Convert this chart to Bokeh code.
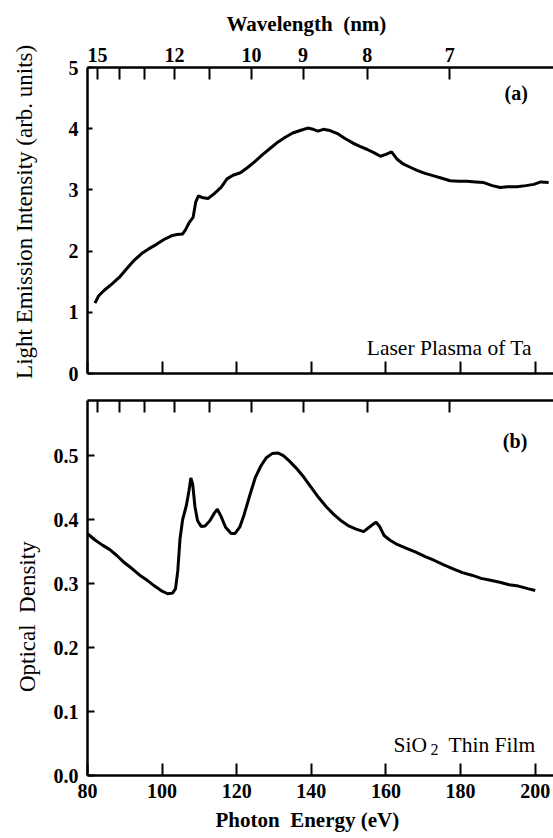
import math
from bokeh.plotting import figure
from bokeh.models import LinearAxis, FixedTicker, Range1d, Label, Title, CustomLabelingPolicy
from bokeh.layouts import column
from bokeh.embed import file_html
from bokeh.resources import INLINE

# ---------------- data ----------------
energy_a = [82.0, 83.0, 84.5, 86.5, 88.5, 90.5, 92.5, 94.5, 96.5, 98.5, 100.5, 102.5, 104.0,
            105.5, 106.3, 107.2, 108.3, 109.0, 109.7, 111.0, 112.3, 114.0, 115.8, 117.4,
            119.0, 121.0, 123.0, 125.0, 127.0, 129.0, 131.0, 133.0, 135.0, 137.0, 139.0,
            140.5, 141.8, 143.2, 145.0, 147.0, 149.0, 151.3, 153.0, 155.0, 157.0, 158.5,
            160.0, 161.5, 163.0, 164.7, 166.5, 168.3, 170.5, 172.8, 175.0, 177.2, 179.5,
            181.7, 184.0, 186.2, 188.5, 190.6, 192.5, 195.1, 197.5, 199.6, 201.5, 203.6]
intensity_a = [1.15, 1.27, 1.36, 1.46, 1.57, 1.71, 1.85, 1.96, 2.04, 2.11, 2.19, 2.25, 2.27,
               2.28, 2.35, 2.46, 2.55, 2.80, 2.90, 2.87, 2.86, 2.94, 3.04, 3.18,
               3.24, 3.28, 3.37, 3.47, 3.58, 3.68, 3.78, 3.86, 3.93, 3.97, 4.01,
               3.99, 3.96, 3.99, 3.97, 3.92, 3.84, 3.76, 3.71, 3.66, 3.60, 3.55,
               3.58, 3.62, 3.50, 3.42, 3.37, 3.32, 3.27, 3.23, 3.19, 3.15, 3.14,
               3.14, 3.13, 3.12, 3.07, 3.04, 3.05, 3.05, 3.07, 3.09, 3.13, 3.12]

energy_b = [80.0, 82.0, 84.0, 86.0, 88.0, 90.0, 92.0, 94.0, 96.0, 98.0, 100.0, 101.5, 102.8,
            103.6, 104.2, 104.8, 105.5, 106.5, 107.2, 107.7, 108.2, 108.8, 109.5, 110.5,
            111.5, 112.8, 114.0, 114.8, 115.8, 117.0, 118.5, 119.5, 120.8, 122.0, 123.5,
            125.0, 126.5, 128.0, 129.5, 131.0, 132.5, 134.0, 136.0, 138.0, 140.0, 142.0,
            144.0, 146.0, 148.0, 150.0, 152.0, 154.0, 155.5, 157.3, 158.2, 159.5, 161.0,
            163.0, 165.5, 168.0, 170.5, 173.0, 175.5, 178.0, 180.5, 183.0, 185.5, 188.0,
            190.5, 193.0, 195.5, 198.0, 200.0]
density_b = [0.378, 0.368, 0.360, 0.353, 0.343, 0.332, 0.323, 0.313, 0.305, 0.296, 0.288, 0.284, 0.285,
             0.292, 0.320, 0.370, 0.400, 0.422, 0.445, 0.465, 0.455, 0.420, 0.398, 0.389,
             0.390, 0.398, 0.410, 0.416, 0.405, 0.388, 0.378, 0.378, 0.388, 0.408, 0.438,
             0.466, 0.484, 0.497, 0.503, 0.504, 0.500, 0.492, 0.480, 0.466, 0.450, 0.434,
             0.420, 0.408, 0.398, 0.390, 0.385, 0.381, 0.388, 0.396, 0.390, 0.375, 0.368,
             0.361, 0.355, 0.349, 0.342, 0.336, 0.329, 0.323, 0.317, 0.313, 0.308, 0.305,
             0.302, 0.298, 0.296, 0.292, 0.289]

energy_ticks = [80, 100, 120, 140, 160, 180, 200]
intensity_ticks = [0, 1, 2, 3, 4, 5]
density_ticks = [0.0, 0.1, 0.2, 0.3, 0.4, 0.5]
wavelength_ticks_nm = [15, 14, 13, 12, 11, 10, 9, 8, 7]
wavelength_labels = ["15", "", "", "12", "", "10", "9", "8", "7"]

HC = 1239.84  # eV*nm
wl_energy = [round(HC / w, 3) for w in wavelength_ticks_nm]

X_MIN, X_MAX = 80, 204.9
FONT = "Liberation Serif"
NB = "\u00a0"


def style_axis(ax, tick_in, labels=True, size="20px"):
    ax.axis_line_width = 2.5
    ax.axis_line_color = "black"
    ax.major_tick_line_width = 2
    ax.major_tick_line_color = "black"
    ax.major_tick_in = tick_in
    ax.major_tick_out = 0
    ax.minor_tick_in = 0
    ax.minor_tick_out = 0
    ax.minor_tick_line_color = None
    ax.major_label_text_font = FONT
    ax.major_label_text_font_style = "bold"
    ax.axis_label_text_font = FONT
    ax.axis_label_text_font_style = "normal"
    ax.axis_label_text_color = "black"
    ax.axis_label_text_font_size = "23px"
    if labels:
        ax.major_label_text_color = "black"
        ax.major_label_text_font_size = size
    else:
        ax.major_label_text_color = None
        ax.major_label_text_font_size = "1px"
        ax.major_label_standoff = 0


def add_label(p, x, y, text, size="21px", style="normal", align="left",
              baseline="alphabetic"):
    p.add_layout(Label(x=x, y=y, text=text, text_font=FONT, text_font_size=size,
                       text_font_style=style, text_align=align, text_baseline=baseline,
                       text_color="black"))


def add_title(p, side, text, size, style, offset, standoff):
    p.add_layout(Title(text=text, align="left", offset=offset, standoff=standoff,
                       text_font=FONT, text_font_size=size, text_font_style=style,
                       text_color="black"), side)


# ---------------- panel (a) ----------------
pa = figure(width=553, height=397, x_range=Range1d(X_MIN, X_MAX), y_range=Range1d(0, 5),
            output_backend="svg", toolbar_location=None,
            min_border_left=87, min_border_right=0, min_border_top=66, min_border_bottom=24)
pa.outline_line_color = None
pa.grid.visible = False
pa.background_fill_color = "white"
pa.border_fill_color = "white"

pa.xaxis.ticker = FixedTicker(ticks=energy_ticks)
pa.yaxis.ticker = FixedTicker(ticks=intensity_ticks)
style_axis(pa.xaxis[0], 12, labels=False)
style_axis(pa.yaxis[0], 5)
pa.yaxis.major_label_standoff = 9
pa.yaxis.axis_label = NB * 3 + "Light Emission Intensity (arb. units)"
pa.yaxis.axis_label_standoff = 29

top_a = LinearAxis(ticker=FixedTicker(ticks=wl_energy),
                   major_label_overrides={e: l for e, l in zip(wl_energy, wavelength_labels)},
                   major_label_policy=CustomLabelingPolicy(
                       args=dict(labels=wavelength_labels),
                       code="""
for (let i = 0; i < labels.length; i++) {
    if (labels[i] === "") indices.unset(i)
}
return indices
"""))
style_axis(top_a, 12)
top_a.major_label_standoff = 6
pa.add_layout(top_a, "above")

pa.line(energy_a, intensity_a, line_color="black", line_width=3)

add_title(pa, "above", "Wavelength" + NB + " (nm)", "21px", "bold", 139, 18)
add_label(pa, 194.9, 4.58, "(a)", size="20px", style="bold", align="center", baseline="middle")
add_label(pa, 199.1, 0.42, "Laser Plasma of Ta", size="21.5px", align="right")

# ---------------- panel (b) ----------------
pb = figure(width=553, height=441, x_range=Range1d(X_MIN, X_MAX), y_range=Range1d(0, 0.586),
            output_backend="svg", toolbar_location=None,
            min_border_left=87, min_border_right=0, min_border_top=3, min_border_bottom=63)
pb.outline_line_color = None
pb.grid.visible = False
pb.background_fill_color = "white"
pb.border_fill_color = "white"

pb.xaxis.ticker = FixedTicker(ticks=energy_ticks)
pb.yaxis.ticker = FixedTicker(ticks=density_ticks)
pb.yaxis.major_label_overrides = {t: f"{t:.1f}" for t in density_ticks}
style_axis(pb.xaxis[0], 12)
pb.xaxis.major_label_standoff = 8
style_axis(pb.yaxis[0], 7)
pb.yaxis.major_label_standoff = 9
pb.yaxis.axis_label = "Optical" + NB + " Density" + NB * 10
pb.yaxis.axis_label_standoff = 11

top_b = LinearAxis(ticker=FixedTicker(ticks=wl_energy))
style_axis(top_b, 12, labels=False)
pb.add_layout(top_b, "above")

pb.line(energy_b, density_b, line_color="black", line_width=3)

add_title(pb, "below", "Photon" + NB + " Energy (eV)", "21px", "bold", 128, 10)
add_label(pb, 194.6, 0.523, "(b)", size="20px", style="bold", align="center", baseline="middle")
add_label(pb, 171.0, 0.047, "SiO", size="21.5px", align="right")
add_label(pb, 171.9, 0.041, "2", size="16px", align="left")
add_label(pb, 200.0, 0.047, "Thin Film", size="21.5px", align="right")

layout = column(pa, pb, spacing=0)
open("out.html", "w").write(file_html(layout, INLINE))
